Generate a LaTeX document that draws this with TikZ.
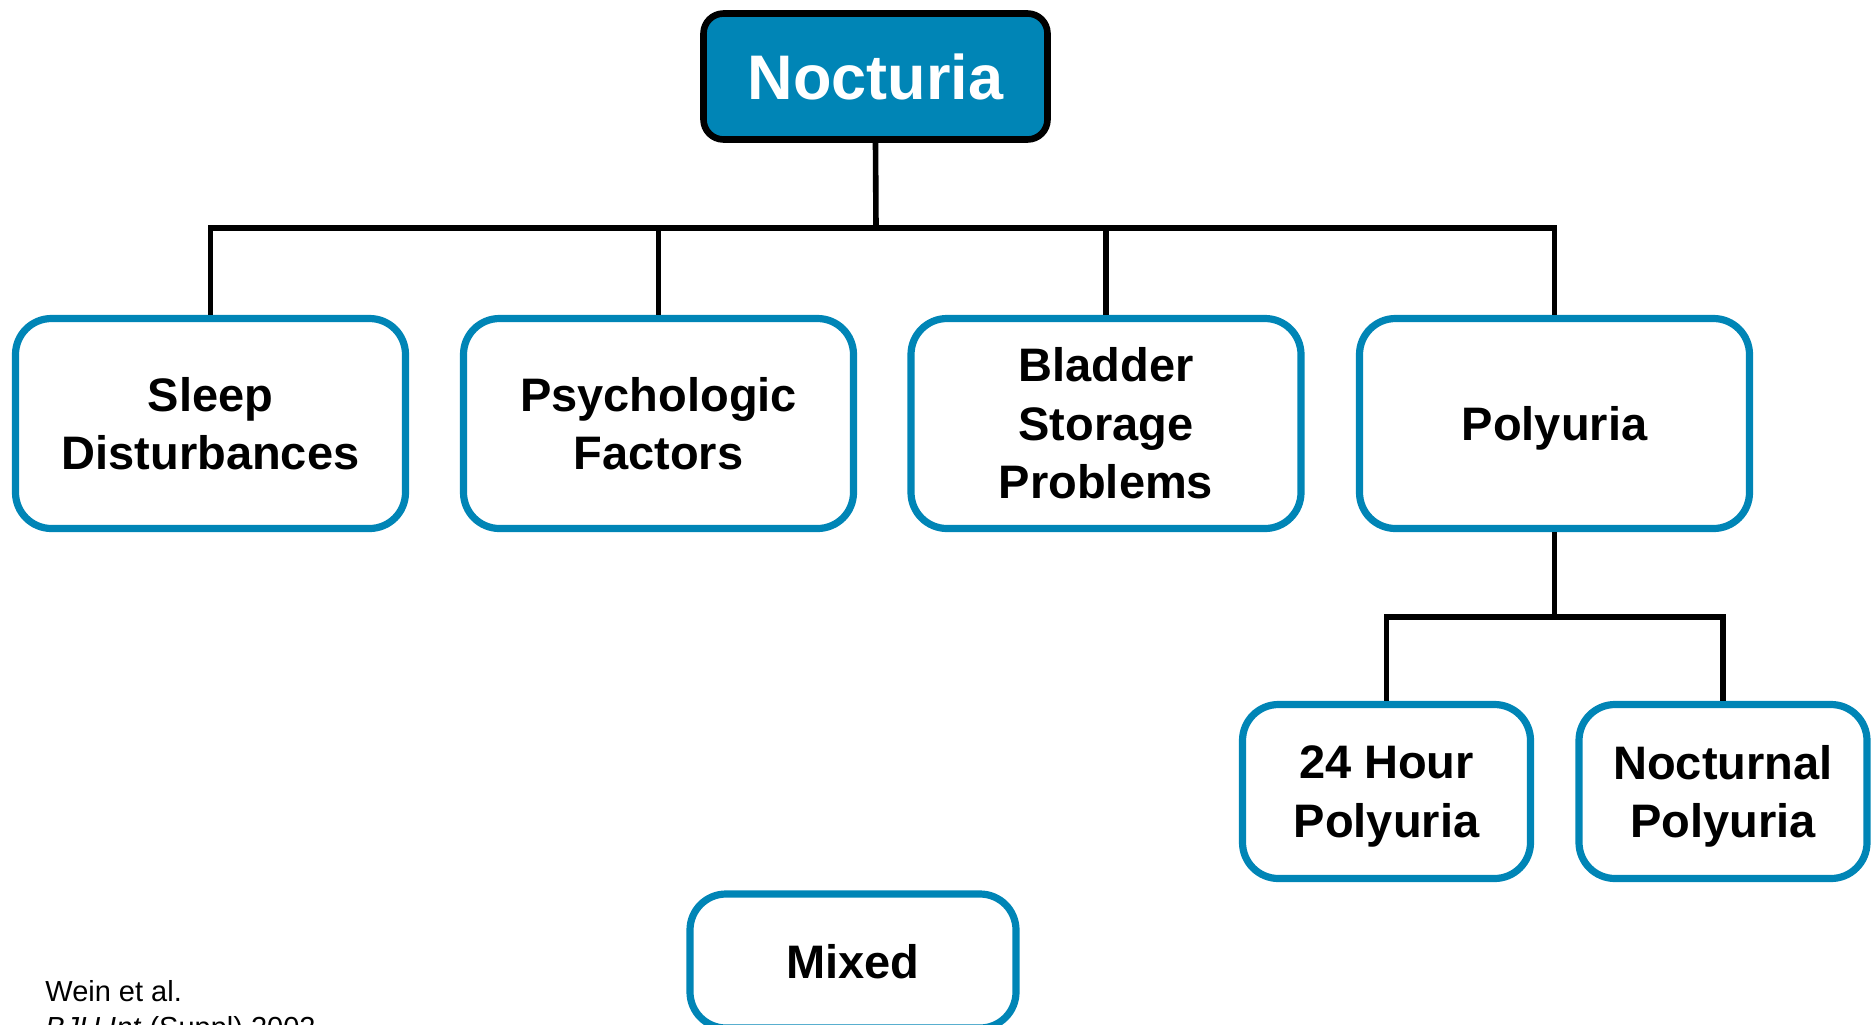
\documentclass[tikz,border=0pt]{standalone}
\usepackage{fontspec}
\setmainfont{Liberation Sans}
\definecolor{nocblue}{HTML}{0085B6}

\begin{document}
\begin{tikzpicture}[x=0.5pt, y=-0.5pt,
    root/.style={draw=black, line width=3.3pt, fill=nocblue, rounded corners=10pt,
      minimum width=172pt, minimum height=63pt, text=white,
      font=\fontsize{31.5}{36}\selectfont\bfseries},
    cause/.style={draw=nocblue, line width=3.6pt, fill=white, rounded corners=18pt,
      minimum width=195pt, minimum height=105pt, align=center,
      font=\fontsize{23.5}{29.3}\selectfont\bfseries},
    subtype/.style={cause, minimum width=144pt, minimum height=87pt, text depth=0pt},
    link/.style={draw=black, line width=2.8pt},
    cite/.style={anchor=base west, inner sep=0pt, font=\fontsize{14.5}{17}\selectfont}]
  \useasboundingbox (0,0) rectangle (1875,1024);

  \node[root] (noct) at (875.5, 76.5) {Nocturia};

  \node[cause] (sleep) at (210.5, 423.5) {Sleep\\Disturbances};
  \node[cause] (psych) at (658.5, 423.5) {Psychologic\\Factors};
  \node[cause] (bladder) at (1106, 423.5) {Bladder\\Storage\\Problems};
  \node[cause, text depth=0pt] (poly) at (1554.5, 423.5) {Polyuria};

  \node[subtype] (hour) at (1386.5, 791.5) {24 Hour\\Polyuria};
  \node[subtype] (nocturnal) at (1723, 791.5) {Nocturnal\\Polyuria};

  \node[subtype, minimum width=163pt, minimum height=67pt] (mixed) at (853, 961) {Mixed};

  \coordinate (bar) at (876, 228);
  \coordinate (polybar) at (1554.5, 617);

  \draw[link] (noct.south) -- (bar);
  \draw[link] (sleep.north) |- (poly.north |- bar) -- (poly.north);
  \draw[link] (psych.north) -- (psych.north |- bar);
  \draw[link] (bladder.north) -- (bladder.north |- bar);
  \draw[link] (poly.south) -- (polybar);
  \draw[link] (hour.north) |- (nocturnal.north |- polybar) -- (nocturnal.north);

  \node[cite] (wein) at (45, 1001) {Wein et al.};
  \node[cite] (bju) at (45, 1037) {\textit{BJU Int} (Suppl) 2002};
\end{tikzpicture}
\end{document}
